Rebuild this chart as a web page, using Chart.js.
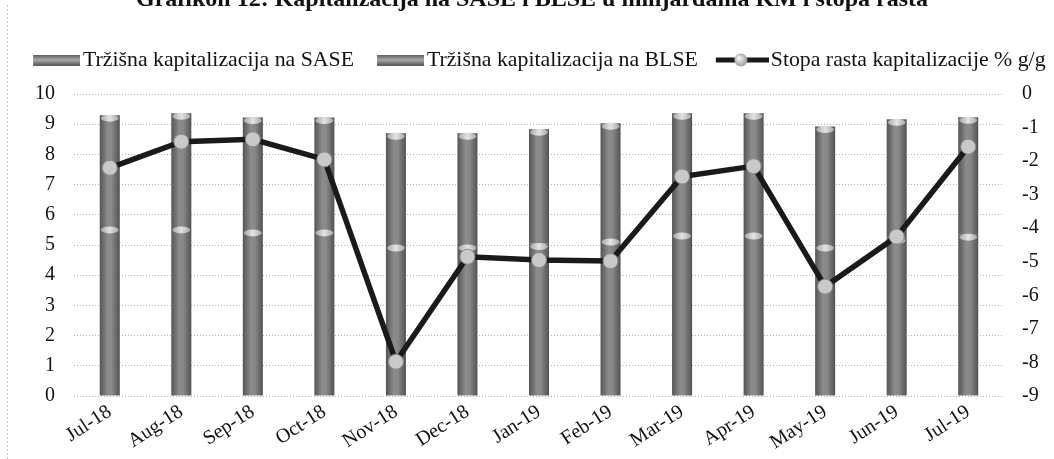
<!DOCTYPE html>
<html>
<head>
<meta charset="utf-8">
<script src="https://cdn.jsdelivr.net/npm/chart.js@4.4.1/dist/chart.umd.min.js"></script>
<style>
  html, body { margin: 0; padding: 0; background: #ffffff; }
  #wrap { width: 1054px; height: 459px; overflow: hidden; position: relative; background: #fff; }
  #c { display: block; margin-top: -15px; }
</style>
</head>
<body>
<div id="wrap"><canvas id="c" width="1054" height="474"></canvas></div>
<script>
// ---- data ----
const titleText = 'Grafikon 12: Kapitalizacija na SASE i BLSE u milijardama KM i stopa rasta';
const categories = ['Jul-18','Aug-18','Sep-18','Oct-18','Nov-18','Dec-18','Jan-19','Feb-19','Mar-19','Apr-19','May-19','Jun-19','Jul-19'];
const seriesNames = ['Tržišna kapitalizacija na SASE', 'Tržišna kapitalizacija na BLSE', 'Stopa rasta kapitalizacije % g/g'];
const saseValues = [5.6, 5.6, 5.5, 5.5, 5.0, 5.0, 5.05, 5.2, 5.4, 5.4, 5.0, 5.25, 5.36];
const blseValues = [3.7, 3.76, 3.72, 3.72, 3.7, 3.7, 3.78, 3.83, 3.96, 3.96, 3.92, 3.91, 3.87];
const growthValues = [-2.2, -1.42, -1.35, -1.95, -7.98, -4.85, -4.95, -4.98, -2.46, -2.15, -5.74, -4.25, -1.57];
const leftAxisRange = [0, 10];
const rightAxisRange = [-9, 0];

// ---- legend swatches ----
function makeBarSwatch() {
  const c = document.createElement('canvas');
  c.width = 76; c.height = 11;
  const g = c.getContext('2d');
  const grd = g.createLinearGradient(0, 0, 0, 11);
  grd.addColorStop(0, '#5a5a5a');
  grd.addColorStop(0.5, '#a8a8a8');
  grd.addColorStop(1, '#555555');
  g.fillStyle = grd;
  g.fillRect(29, 0, 47, 11);
  return c;
}
function makeLineSwatch() {
  const c = document.createElement('canvas');
  c.width = 78; c.height = 16;
  const g = c.getContext('2d');
  g.fillStyle = '#1a1a1a';
  g.fillRect(25, 5.5, 53, 5);
  const rg = g.createRadialGradient(48, 6, 1, 50, 8, 8);
  rg.addColorStop(0, '#f2f2f2');
  rg.addColorStop(1, '#8a8a8a');
  g.fillStyle = rg;
  g.beginPath(); g.arc(50, 8, 6.5, 0, Math.PI * 2); g.fill();
  return c;
}
const barSwatch = makeBarSwatch();
const lineSwatch = makeLineSwatch();

function barGradient(ctx) {
  const chart = ctx.chart;
  const xs = chart.scales.x;
  if (!xs || ctx.dataIndex === undefined) return '#7a7a7a';
  const cx = xs.getPixelForValue(ctx.dataIndex);
  const half = 10;
  const g = chart.ctx.createLinearGradient(cx - half, 0, cx + half, 0);
  g.addColorStop(0, '#555555');
  g.addColorStop(0.4, '#8c8c8c');
  g.addColorStop(0.6, '#888888');
  g.addColorStop(1, '#525252');
  return g;
}

const capPlugin = {
  id: 'caps',
  afterDatasetDraw(chart, args) {
    const meta = args.meta;
    if (meta.type !== 'bar') return;
    const ctx = chart.ctx;
    meta.data.forEach(el => {
      const p = el.getProps(['x', 'y', 'width'], true);
      ctx.save();
      const g = ctx.createLinearGradient(p.x - p.width / 2, 0, p.x + p.width / 2, 0);
      g.addColorStop(0, '#a0a0a0');
      g.addColorStop(0.5, '#e4e4e4');
      g.addColorStop(1, '#a0a0a0');
      ctx.fillStyle = g;
      ctx.beginPath();
      ctx.ellipse(p.x, p.y + 3, p.width / 2 - 1, 3.5, 0, 0, Math.PI * 2);
      ctx.fill();
      ctx.restore();
    });
  }
};

const framePlugin = {
  id: 'frame',
  beforeLayout(chart) {
    const lg = chart.legend;
    if (lg && !lg._patched) {
      const f = lg.fit;
      lg.fit = function () { f.call(this); this.height += 13.1; };
      lg._patched = true;
    }
  },
  afterDraw(chart) {
    const ctx = chart.ctx;
    ctx.save();
    ctx.strokeStyle = '#c4c4c4';
    ctx.lineWidth = 1;
    ctx.setLineDash([2, 2]);
    ctx.beginPath();
    ctx.moveTo(7.5, 20);
    ctx.lineTo(7.5, 474);
    ctx.stroke();
    ctx.restore();
  }
};

const serif = "'Liberation Serif', 'Times New Roman', serif";

new Chart(document.getElementById('c'), {
  data: {
    labels: categories,
    datasets: [
      {
        type: 'bar', label: seriesNames[0], data: saseValues, yAxisID: 'y', stack: 's',
        backgroundColor: barGradient, borderWidth: 0, order: 1,
        barPercentage: 0.28, categoryPercentage: 1.0
      },
      {
        type: 'bar', label: seriesNames[1], data: blseValues, yAxisID: 'y', stack: 's',
        backgroundColor: barGradient, borderWidth: 0, order: 2,
        barPercentage: 0.28, categoryPercentage: 1.0
      },
      {
        type: 'line', label: seriesNames[2], data: growthValues, yAxisID: 'y1', order: 0,
        borderColor: '#1a1a1a', borderWidth: 5.5, tension: 0,
        pointRadius: 7.5, pointBackgroundColor: '#c9c9c9', pointBorderColor: '#8a8a8a', pointBorderWidth: 1
      }
    ]
  },
  options: {
    responsive: false,
    animation: false,
    devicePixelRatio: 1,
    layout: { padding: { left: 10.1, right: 0, top: 0, bottom: 0 } },
    plugins: {
      tooltip: { enabled: false },
      title: {
        display: true, text: titleText, color: '#111',
        font: { family: serif, size: 24, weight: 'bold' },
        padding: { top: 0, bottom: 33.3 }
      },
      legend: {
        display: true, align: 'start',
        labels: {
          usePointStyle: true, pointStyleWidth: 60, padding: 2,
          color: '#111', font: { family: serif, size: 21.8 },
          generateLabels: () => [
            { text: seriesNames[0], pointStyle: barSwatch, datasetIndex: 0, lineWidth: 0, fillStyle: 'transparent', strokeStyle: 'transparent', fontColor: '#111', hidden: false },
            { text: seriesNames[1], pointStyle: barSwatch, datasetIndex: 1, lineWidth: 0, fillStyle: 'transparent', strokeStyle: 'transparent', fontColor: '#111', hidden: false },
            { text: seriesNames[2], pointStyle: lineSwatch, datasetIndex: 2, lineWidth: 0, fillStyle: 'transparent', strokeStyle: 'transparent', fontColor: '#111', hidden: false }
          ]
        }
      }
    },
    scales: {
      x: {
        type: 'category', offset: true,
        grid: { display: false, drawTicks: false },
        border: { display: false },
        ticks: { color: '#111', font: { family: serif, size: 20 }, minRotation: 33, maxRotation: 33, padding: 4, autoSkip: false },
        afterFit(s) { s.height = 63; }
      },
      y: {
        position: 'left', stacked: true, min: leftAxisRange[0], max: leftAxisRange[1],
        grid: { color: '#b4b4b4', lineWidth: 1, drawTicks: false },
        border: { display: false, dash: [1, 2] },
        ticks: { stepSize: 1, autoSkip: false, color: '#111', font: { family: serif, size: 20 }, padding: 19 },
        afterFit(s) { s.width = 63.9; }
      },
      y1: {
        position: 'right', min: rightAxisRange[0], max: rightAxisRange[1],
        grid: { display: false, drawTicks: false },
        border: { display: false },
        ticks: { stepSize: 1, autoSkip: false, color: '#111', font: { family: serif, size: 20 }, padding: 18 },
        afterFit(s) { s.width = 50; }
      }
    }
  },
  plugins: [capPlugin, framePlugin]
});
</script>
</body>
</html>
